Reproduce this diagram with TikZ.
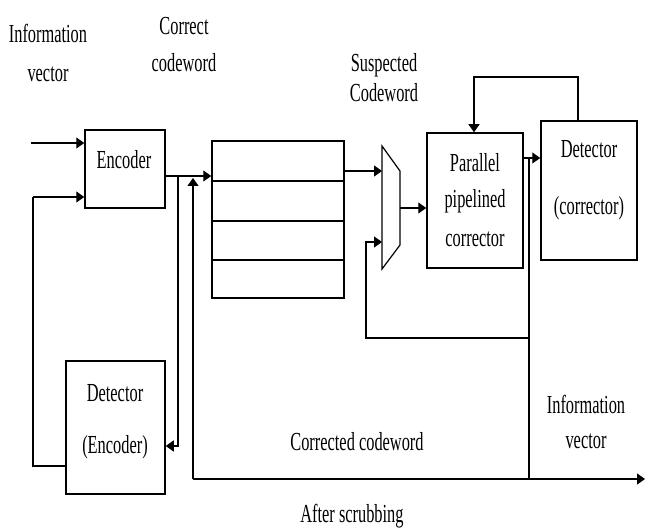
\documentclass[tikz,border=0pt]{standalone}
\usepackage{fontspec}
\setmainfont{Liberation Serif}[FakeStretch=0.63]
\usetikzlibrary{arrows.meta}
\begin{document}
\begin{tikzpicture}[x=1pt,y=-1pt,
  box/.style={draw,line width=1.5pt,inner sep=0pt},
  wire/.style={line width=1.2pt},
  arr/.style={wire,-{Triangle[length=8pt,width=11pt]}},
  lbl/.style={anchor=base,inner sep=0pt,font=\fontsize{26}{30}\selectfont}]
\useasboundingbox (0,0) rectangle (645,529);
% boxes
\node (enc) [box,minimum width=80pt,minimum height=78pt] at (125,169) {};
\node (mem) [box,minimum width=132pt,minimum height=157pt] at (278,219.5) {};
\node (par) [box,minimum width=96pt,minimum height=135pt] at (475,200.5) {};
\node (det) [box,minimum width=96pt,minimum height=139pt] at (589,190.5) {};
\node (detenc) [box,minimum width=99pt,minimum height=133pt] at (115.5,427.5) {};
% memory rows
\foreach \yy/\nm in {181/r1,221/r2,260/r3}{
  \coordinate (\nm) at (0,\yy);
  \draw[box] (mem.west |- \nm) -- (mem.east |- \nm);
}
% mux
\coordinate (m1) at (382,146);
\coordinate (m2) at (400,171);
\coordinate (m3) at (400,245);
\coordinate (m4) at (382,269);
\draw[wire] (m1) -- (m2) -- (m3) -- (m4) -- cycle;
% coordinates
\coordinate (in1) at (31,143);
\coordinate (in2) at (33,197);
\coordinate (c1) at (33,466);
\coordinate (eo) at (0,176);
\coordinate (b1) at (178,176);
\coordinate (b1e) at (0,446);
\coordinate (b2) at (193,479);
\coordinate (b2t) at (193,178);
\coordinate (outend) at (645,479);
\coordinate (mo) at (0,171);
\coordinate (mi1) at (382,171);
\coordinate (mi2) at (382,242);
\coordinate (mc) at (366,242);
\coordinate (md) at (366,338);
\coordinate (pd) at (529,338);
\coordinate (mout) at (400,208);
\coordinate (pe) at (0,158);
\coordinate (pv) at (529,158);
\coordinate (pb) at (529,479);
\coordinate (fbx1) at (578,0);
\coordinate (fb1) at (578,77);
\coordinate (fb2) at (474,77);
\coordinate (fbx2) at (474,0);
% connectors
\draw[arr] (in1) -- (enc.west |- in1);
\draw[arr] (in2) -- (enc.west |- in2);
\draw[wire] (in2) -- (c1) -- (detenc.west |- c1);
\draw[arr] (enc.east |- eo) -- (mem.west |- eo);
\draw[arr] (b1) |- (detenc.east |- b1e);
\draw[arr] (b2) -- (b2t);
\draw[arr] (b2) -- (outend);
\draw[arr] (mem.east |- mo) -- (mi1);
\draw[arr] (mout) -- (par.west |- mout);
\draw[arr] (pd) -- (md) -- (mc) -- (mi2);
\draw[arr] (par.east |- pe) -- (det.west |- pe);
\draw[wire] (pv) -- (pb);
\draw[arr] (det.north -| fbx1) -- (fb1) -- (fb2) -- (par.north -| fbx2);
% labels
\node (t1) [lbl] at (48,43) {Information};
\node (t2) [lbl] at (48,82) {vector};
\node (t3) [lbl] at (184,35) {Correct};
\node (t4) [lbl] at (184,72) {codeword};
\node (t5) [lbl] at (384,72) {Suspected};
\node (t6) [lbl] at (384,102) {Codeword};
\node (t7) [lbl] at (124,169) {Encoder};
\node (t8) [lbl] at (475,172) {Parallel};
\node (t9) [lbl] at (475,208) {pipelined};
\node (t10) [lbl] at (475,247) {corrector};
\node (t11) [lbl] at (589,158) {Detector};
\node (t12) [lbl] at (589,215) {(corrector)};
\node (t13) [lbl] at (115,401) {Detector};
\node (t14) [lbl] at (115,453) {(Encoder)};
\node (t15) [lbl] at (357,450) {Corrected codeword};
\node (t16) [lbl] at (586,413) {Information};
\node (t17) [lbl] at (586,448) {vector};
\node (t18) [lbl] at (352,522) {After scrubbing};
\end{tikzpicture}
\end{document}
